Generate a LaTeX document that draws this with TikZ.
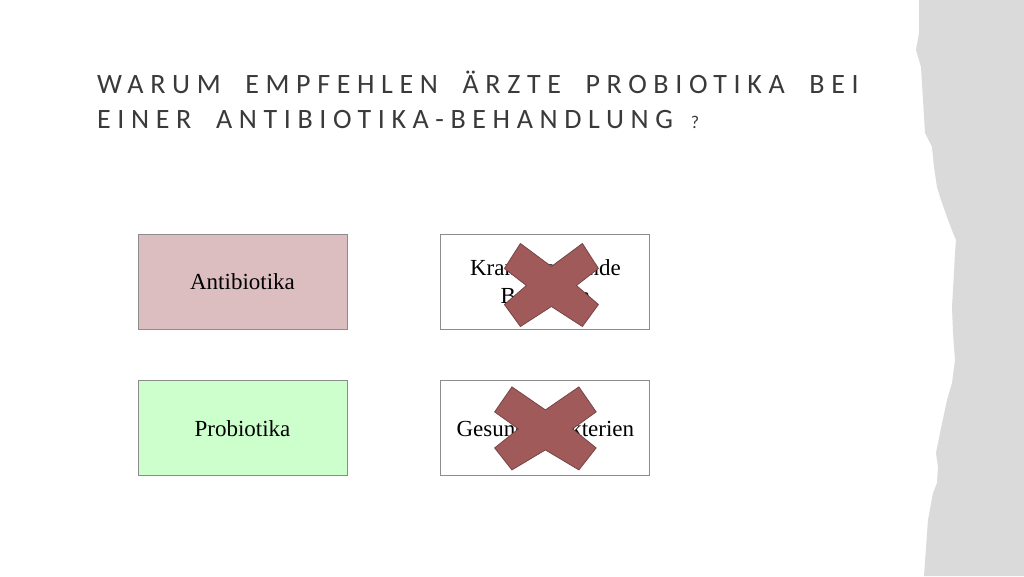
\documentclass[tikz,border=0pt]{standalone}
\usepackage{fontspec}
\setmainfont{Liberation Serif}
\newfontfamily\titlefont[LetterSpace=23.7, WordSpace=1.9]{Carlito}
\usetikzlibrary{positioning}
\definecolor{titlegray}{HTML}{3A3A3A}
\definecolor{antipink}{HTML}{DCBEC1}
\definecolor{probigreen}{HTML}{CCFFCC}
\definecolor{kreuzrot}{HTML}{A05A5A}
\definecolor{papiergrau}{HTML}{DADADA}
\tikzset{
	kasten/.style={
		rectangle,
		draw=black!45, line width=0.9pt,
		minimum width=209pt,
		minimum height=95pt,
		inner sep=0pt,
		text width=195pt,
		align=center,
		font=\fontsize{23}{28}\selectfont},
	titel/.style={anchor=base west, inner sep=0pt, text=titlegray,
		font=\titlefont\fontsize{28}{28}\selectfont},
	kreuz/.pic={
		\draw[fill=kreuzrot, draw=kreuzrot!75!black, line width=0.8pt]
		(-31,-42) -- (0,-19) -- (31,-42) -- (47,-17) -- (25,0) -- (47,19) --
		(31,41) -- (0,21) -- (-31,41) -- (-47,19) -- (-25,0) -- (-47,-17) -- cycle;
	},
}

\begin{document}
\begin{tikzpicture}[x=1pt, y=-1pt, node distance=51pt and 93pt]
\useasboundingbox (0,0) rectangle (1024,576);
\fill[white] (0,0) rectangle (1024,576);
\fill[papiergrau] (1024,0) -- (919,0) -- (919,33) -- (916,50) -- (921,67) -- (923,100) --
	(925,133) -- (932,147) -- (934,167) -- (937,187) -- (941,200) -- (947,217) --
	(953,233) -- (956,240) -- (955,253) -- (953,290) -- (952,307) -- (953,333) --
	(955,360) -- (952,383) -- (947,400) -- (940,433) -- (936,453) -- (938,467) --
	(937,483) -- (933,493) -- (928,520) -- (924,576) -- (1024,576) -- cycle;
\node[titel] (zeile1) at (97,93) {WARUM EMPFEHLEN ÄRZTE PROBIOTIKA BEI};
\node[titel] (zeile2) at (97,128) {EINER ANTIBIOTIKA-BEHANDLUNG\hspace{18pt}{\fontsize{18}{18}\selectfont ?}};
\node[kasten, fill=antipink] (anti) at (242.5,281.5) {Antibiotika};
\node[kasten, right=of anti] (krank) {Krankmachende Bakterien};
\node[kasten, fill=probigreen, below=of anti] (probi) {Probiotika};
\node[kasten, right=of probi] (gesund) {Gesunde Bakterien};
\pic at ([xshift=6pt, yshift=-4pt]krank.center) {kreuz};
\pic[xscale=1.08] at ([yshift=-0.5pt]gesund.center) {kreuz};
\end{tikzpicture}
\end{document}
